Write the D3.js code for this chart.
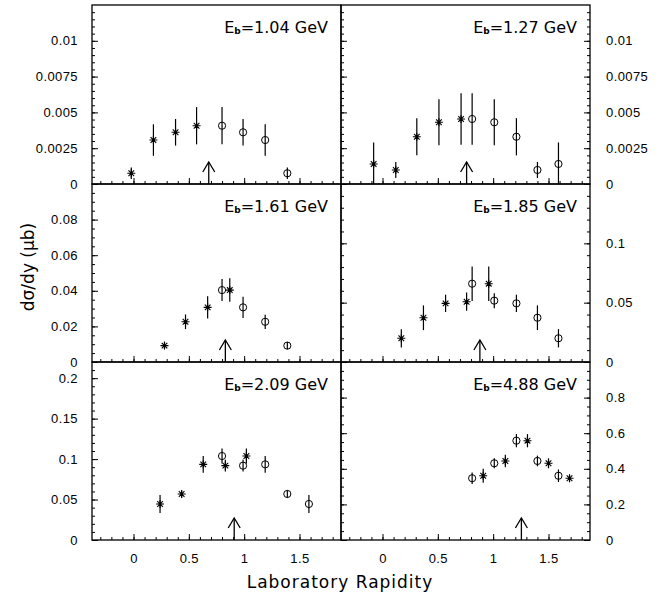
<!DOCTYPE html>
<html>
<head>
<meta charset="utf-8">
<script src="https://cdn.jsdelivr.net/npm/d3@7"></script>
<style>
  body { margin: 0; background: #fff; }
  svg { font-family: "DejaVu Sans", sans-serif; }
  .tick text { font-size: 13px; letter-spacing: 0.4px; fill: #000; }
  .tick line { stroke: #000; }
</style>
</head>
<body>
<svg id="chart" width="672" height="594"></svg>
<script>
// beam energies (GeV), one panel each, read left-to-right, top-to-bottom
const energies = ["1.04", "1.27", "1.61", "1.85", "2.09", "4.88"];

// rapidity marked by the arrow in each panel
const arrowRapidity = [0.68, 0.76, 0.83, 0.88, 0.91, 1.255];

// x axis
const rapidityRange = [-0.375, 1.875];
const xTickLabels = ["0", "0.5", "1", "1.5"];

// y axes
const yMax = [0.0125, 0.0125, 0.1, 0.15, 0.22, 1.0];
const yMinorStep = [0.0005, 0.0005, 0.005, 0.01, 0.01, 0.05];
const yTickLabels = [
  ["0", "0.0025", "0.005", "0.0075", "0.01"],
  ["0", "0.0025", "0.005", "0.0075", "0.01"],
  ["0", "0.02", "0.04", "0.06", "0.08"],
  ["0", "0.05", "0.1"],
  ["0", "0.05", "0.1", "0.15", "0.2"],
  ["0", "0.2", "0.4", "0.6", "0.8"]
];

// measured points (asterisks): [rapidity, dsigma/dy, error]
const measured = [
  [[-0.02, 0.00075, 0.0004], [0.18, 0.00307, 0.0011], [0.38, 0.00361, 0.00093], [0.57, 0.00407, 0.0013]],
  [[-0.08, 0.0014, 0.0015], [0.12, 0.00098, 0.00056], [0.31, 0.0033, 0.0013], [0.51, 0.00431, 0.0016], [0.71, 0.00454, 0.0018]],
  [[0.28, 0.0092, 0.002], [0.47, 0.0226, 0.0041], [0.67, 0.0307, 0.0063], [0.87, 0.0404, 0.0066]],
  [[0.17, 0.020, 0.0077], [0.37, 0.0373, 0.0104], [0.57, 0.0494, 0.0073], [0.76, 0.0508, 0.0077], [0.96, 0.066, 0.0145]],
  [[0.24, 0.0445, 0.011], [0.435, 0.0569, 0.0047], [0.63, 0.0935, 0.0103], [0.83, 0.0919, 0.0072], [1.02, 0.1038, 0.0093]],
  [[0.91, 0.361, 0.039], [1.11, 0.444, 0.035], [1.31, 0.558, 0.037], [1.50, 0.431, 0.028], [1.69, 0.347, 0.02]]
];

// reflected points (open circles): [rapidity, dsigma/dy, error]
const reflected = [
  [[0.80, 0.00407, 0.0013], [0.99, 0.00361, 0.00093], [1.19, 0.00307, 0.0011], [1.39, 0.00075, 0.0004]],
  [[0.81, 0.00454, 0.0018], [1.01, 0.00431, 0.0016], [1.21, 0.0033, 0.0013], [1.40, 0.00098, 0.00056], [1.59, 0.0014, 0.0015]],
  [[0.80, 0.0404, 0.0062], [0.99, 0.0307, 0.006], [1.19, 0.0226, 0.004], [1.39, 0.0092, 0.002]],
  [[0.81, 0.066, 0.0145], [1.01, 0.0517, 0.0063], [1.21, 0.0494, 0.0073], [1.40, 0.0373, 0.0104], [1.59, 0.020, 0.0077]],
  [[0.80, 0.1038, 0.0093], [0.99, 0.0919, 0.0072], [1.19, 0.0935, 0.0103], [1.39, 0.0569, 0.0047], [1.585, 0.0445, 0.011]],
  [[0.81, 0.347, 0.032], [1.01, 0.431, 0.028], [1.21, 0.558, 0.037], [1.40, 0.444, 0.03], [1.59, 0.361, 0.035]]
];

// layout
const colLeft = [92, 341];
const panelW = 249;
const rowTop = [5, 184, 362];
const rowBottom = [184, 362, 540];

const svg = d3.select("#chart");

function steps(lo, hi, step) {
  return d3.range(Math.round(lo / step), Math.round(hi / step) + 1)
    .map(k => +(k * step).toFixed(6));
}

function noDomain(g) { g.select(".domain").remove(); }

energies.forEach((energy, i) => {
  const col = i % 2;
  const row = Math.floor(i / 2);

  const x = d3.scaleLinear()
    .domain(rapidityRange)
    .range([colLeft[col], colLeft[col] + panelW]);
  const y = d3.scaleLinear()
    .domain([0, yMax[i]])
    .range([rowBottom[row], rowTop[row]]);

  const panel = svg.append("g").attr("class", "panel");

  // x ticks (inside, pointing up)
  const xMinor = steps(-0.3, 1.8, 0.1);
  panel.append("g")
    .attr("transform", `translate(0,${rowBottom[row]})`)
    .call(d3.axisBottom(x).tickValues(xMinor).tickSize(-3).tickFormat(""))
    .call(noDomain);

  panel.append("g")
    .attr("transform", `translate(0,${rowBottom[row]})`)
    .call(d3.axisBottom(x)
      .tickValues(xTickLabels.map(Number))
      .tickSize(-6)
      .tickPadding(14)
      .tickFormat((d, k) => row === 2 ? xTickLabels[k] : ""))
    .call(noDomain);

  // y ticks
  const yMinor = steps(0, yMax[i], yMinorStep[i]).filter(v => v < yMax[i]);
  const yMajorVals = yTickLabels[i].map(Number);

  // left side of every panel
  panel.append("g")
    .attr("transform", `translate(${colLeft[col]},0)`)
    .call(d3.axisLeft(y).tickValues(yMinor).tickSize(-3).tickFormat(""))
    .call(noDomain);
  panel.append("g")
    .attr("transform", `translate(${colLeft[col]},0)`)
    .call(d3.axisLeft(y)
      .tickValues(yMajorVals)
      .tickSize(-6)
      .tickPadding(14)
      .tickFormat((d, k) => col === 0 ? yTickLabels[i][k] : ""))
    .call(noDomain);

  // right side of right-column panels
  if (col === 1) {
    const xr = colLeft[col] + panelW;
    panel.append("g")
      .attr("transform", `translate(${xr},0)`)
      .call(d3.axisRight(y).tickValues(yMinor).tickSize(-3).tickFormat(""))
      .call(noDomain);
    panel.append("g")
      .attr("transform", `translate(${xr},0)`)
      .call(d3.axisRight(y)
        .tickValues(yMajorVals)
        .tickSize(-6)
        .tickPadding(16)
        .tickFormat((d, k) => yTickLabels[i][k]))
      .call(noDomain)
      .selectAll("text").attr("text-anchor", "start");
  }

  // arrow
  const ax = x(arrowRapidity[i]);
  const ab = rowBottom[row];
  panel.append("line")
    .attr("x1", ax).attr("x2", ax)
    .attr("y1", ab).attr("y2", ab - 22)
    .attr("stroke", "#000").attr("stroke-width", 1.3);
  panel.append("path")
    .attr("d", `M${ax - 6},${ab - 12} L${ax},${ab - 22} L${ax + 6},${ab - 12}`)
    .attr("fill", "none").attr("stroke", "#000").attr("stroke-width", 1.3);

  // error bars
  const allPts = measured[i].concat(reflected[i]);
  panel.append("g").selectAll("line")
    .data(allPts)
    .join("line")
    .attr("x1", d => x(d[0])).attr("x2", d => x(d[0]))
    .attr("y1", d => y(Math.max(0, d[1] - d[2])))
    .attr("y2", d => y(d[1] + d[2]))
    .attr("stroke", "#000").attr("stroke-width", 1.2);

  // asterisks
  const r = 4;
  const d45 = r * Math.SQRT1_2;
  panel.append("g").selectAll("path")
    .data(measured[i])
    .join("path")
    .attr("transform", d => `translate(${x(d[0])},${y(d[1])})`)
    .attr("d", `M${-r},0H${r}M0,${-r}V${r}M${-d45},${-d45}L${d45},${d45}M${-d45},${d45}L${d45},${-d45}`)
    .attr("fill", "none").attr("stroke", "#000").attr("stroke-width", 1.1);

  // open circles (error bar shows through)
  panel.append("g").selectAll("circle")
    .data(reflected[i])
    .join("circle")
    .attr("cx", d => x(d[0])).attr("cy", d => y(d[1]))
    .attr("r", 3.6)
    .attr("fill", "none").attr("stroke", "#000").attr("stroke-width", 1);

  // energy label
  const label = panel.append("text")
    .attr("x", colLeft[col] + panelW - 13)
    .attr("y", rowTop[row] + 28)
    .attr("text-anchor", "end")
    .attr("font-size", 16);
  label.append("tspan").text("E");
  label.append("tspan").attr("font-size", 9).attr("font-weight", "bold").attr("dy", 1).text("b");
  label.append("tspan").attr("dy", -1).text(`=${energy} GeV`);

  // frame
  panel.append("rect")
    .attr("x", colLeft[col]).attr("y", rowTop[row])
    .attr("width", panelW).attr("height", rowBottom[row] - rowTop[row])
    .attr("fill", "none").attr("stroke", "#000").attr("stroke-width", 1.3);
});

// axis titles
svg.append("text")
  .attr("transform", "translate(34,267) rotate(-90)")
  .attr("text-anchor", "middle")
  .attr("font-size", 17)
  .text("dσ/dy (μb)");

svg.append("text")
  .attr("x", 340).attr("y", 588)
  .attr("text-anchor", "middle")
  .attr("font-size", 17)
  .attr("letter-spacing", 1)
  .text("Laboratory Rapidity");
</script>
</body>
</html>
